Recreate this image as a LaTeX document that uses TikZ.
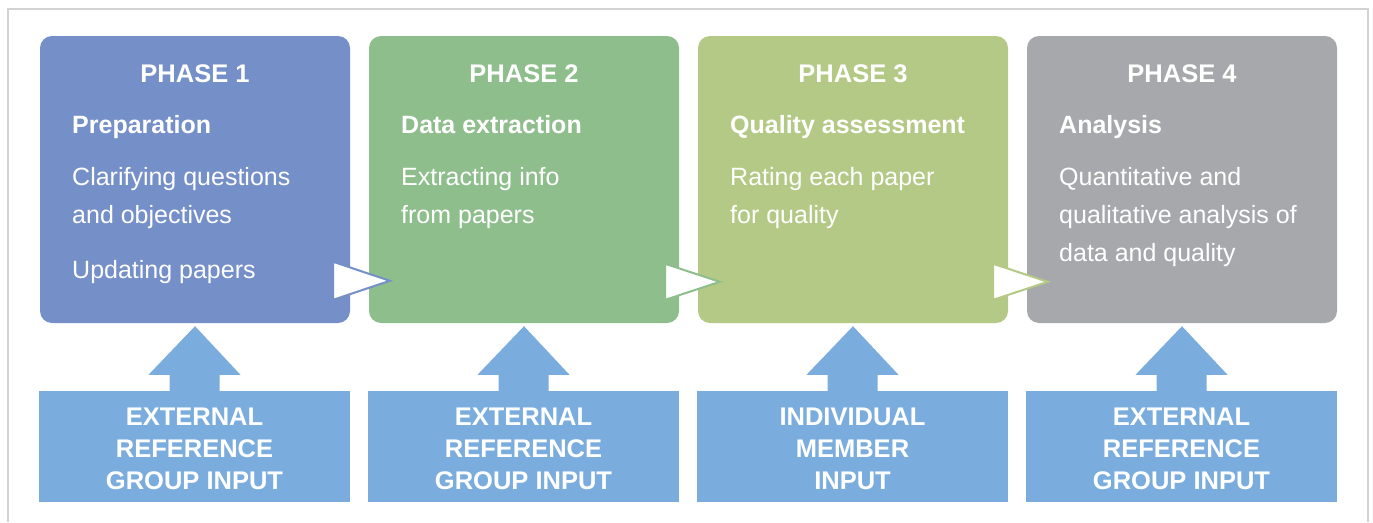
\documentclass[tikz,border=0pt]{standalone}
\usepackage{fontspec}
\setmainfont{Liberation Sans}
\usetikzlibrary{calc}
\definecolor{cone}{HTML}{758FC8}
\definecolor{ctwo}{HTML}{8FBE8D}
\definecolor{cthree}{HTML}{B4C986}
\definecolor{cfour}{HTML}{A7A8AB}
\definecolor{inblue}{HTML}{7AADDD}
\definecolor{framegray}{HTML}{D3D3D3}
\tikzset{
  phasebox/.style={rounded corners=12pt, minimum width=310pt, minimum height=287pt, inner sep=0pt, draw=none},
  inbox/.style={fill=inblue, minimum width=311pt, minimum height=111pt, inner sep=0pt},
  intext/.style={align=center, text=white, inner sep=0pt, font=\fontsize{25.5}{32}\selectfont\bfseries},
  ptitle/.style={anchor=base, text=white, font=\fontsize{25.5}{30}\selectfont\bfseries, inner sep=0pt},
  phead/.style={anchor=base west, text=white, font=\fontsize{25}{30}\selectfont\bfseries, inner sep=0pt},
  pbody/.style={anchor=base west, text=white, font=\fontsize{25}{30}\selectfont, inner sep=0pt},
  tri/.style={fill=white, line width=2pt, line join=miter},
  uparrow/.style={fill=inblue},
}
\begin{document}
\begin{tikzpicture}[x=1pt,y=-1pt]
\useasboundingbox (0,0) rectangle (1373,522);
\fill[white] (0,0) rectangle (1373,522);
\draw[framegray, line width=2pt] (7.5,522) -- (7.5,8.5) -- (1367.5,8.5) -- (1367.5,522);

% phase boxes
\node[phasebox, fill=cone]   (p1) at (195,179.5) {};
\node[phasebox, fill=ctwo]   (p2) at (524,179.5) {};
\node[phasebox, fill=cthree] (p3) at (853,179.5) {};
\node[phasebox, fill=cfour]  (p4) at (1182,179.5) {};

% phase 1 text
\node[ptitle] (p1t) at (195,82) {PHASE 1};
\node[phead]  (p1h) at (72,133) {Preparation};
\node[pbody]  (p1a) at (72,185) {Clarifying questions};
\node[pbody]  (p1b) at (72,223) {and objectives};
\node[pbody]  (p1c) at (72,278) {Updating papers};

% phase 2 text
\node[ptitle] (p2t) at (524,82) {PHASE 2};
\node[phead]  (p2h) at (401,133) {Data extraction};
\node[pbody]  (p2a) at (401,185) {Extracting info};
\node[pbody]  (p2b) at (401,223) {from papers};

% phase 3 text
\node[ptitle] (p3t) at (853,82) {PHASE 3};
\node[phead]  (p3h) at (730,133) {Quality assessment};
\node[pbody]  (p3a) at (730,185) {Rating each paper};
\node[pbody]  (p3b) at (730,223) {for quality};

% phase 4 text
\node[ptitle] (p4t) at (1182,82) {PHASE 4};
\node[phead]  (p4h) at (1059,133) {Analysis};
\node[pbody]  (p4a) at (1059,185) {Quantitative and};
\node[pbody]  (p4b) at (1059,223) {qualitative analysis of};
\node[pbody]  (p4c) at (1059,261) {data and quality};

% triangles between phases
\draw[tri, draw=cone]   ($(p1.north east)+(-17,226)$) -- ($(p1.north east)+(-17,264)$) -- ($(p2.north west)+(21,245)$) -- cycle;
\draw[tri, draw=ctwo]   ($(p2.north east)+(-14,228)$) -- ($(p2.north east)+(-14,264)$) -- ($(p3.north west)+(22,246)$) -- cycle;
\draw[tri, draw=cthree] ($(p3.north east)+(-15,228)$) -- ($(p3.north east)+(-15,264)$) -- ($(p4.north west)+(21,246)$) -- cycle;

% input boxes
\node[inbox] (i1) at (194.5,446.5) {};
\node[inbox] (i2) at (523.5,446.5) {};
\node[inbox] (i3) at (852.5,446.5) {};
\node[inbox] (i4) at (1181.5,446.5) {};
\node[intext] (i1t) at (194.5,448.5) {EXTERNAL\\REFERENCE\\GROUP INPUT};
\node[intext] (i2t) at (523.5,448.5) {EXTERNAL\\REFERENCE\\GROUP INPUT};
\node[intext] (i3t) at (852.5,448.5) {INDIVIDUAL\\MEMBER\\INPUT};
\node[intext] (i4t) at (1181.5,448.5) {EXTERNAL\\REFERENCE\\GROUP INPUT};

% up arrows
\foreach \i in {1,2,3,4}{
  \fill[uparrow] ([yshift=-3pt]p\i.south)
    -- ([xshift=46pt,yshift=16pt]i\i.north)
    -- ([xshift=25pt,yshift=16pt]i\i.north)
    -- ([xshift=25pt,yshift=-1pt]i\i.north)
    -- ([xshift=-25pt,yshift=-1pt]i\i.north)
    -- ([xshift=-25pt,yshift=16pt]i\i.north)
    -- ([xshift=-46pt,yshift=16pt]i\i.north)
    -- cycle;
}
\end{tikzpicture}
\end{document}
